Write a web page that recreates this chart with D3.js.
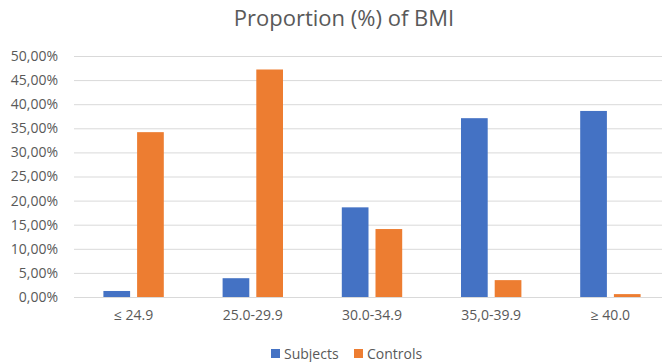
<!DOCTYPE html>
<html>
<head>
<meta charset="utf-8">
<script src="https://cdn.jsdelivr.net/npm/d3@7"></script>
<style>
  html, body { margin: 0; padding: 0; background: #fff; overflow: hidden; }
  svg { display: block; font-family: "Open Sans", "Liberation Sans", sans-serif; }
</style>
</head>
<body>
<svg id="chart" width="662" height="362"></svg>
<script>
// BMI classes and the share (%) of each group falling into them
const categories = ["≤ 24.9", "25.0-29.9", "30.0-34.9", "35,0-39.9", "≥ 40.0"];
const subjects = [1.25, 3.9, 18.6, 37.1, 38.6];
const controls = [34.2, 47.2, 14.1, 3.5, 0.6];
const seriesNames = ["Subjects", "Controls"];
const seriesColors = ["#4472C4", "#ED7D31"];
const yTicks = [0, 5, 10, 15, 20, 25, 30, 35, 40, 45, 50];

const svg = d3.select("#chart");
const W = 662, H = 362;
const plot = { left: 74, right: 670, top: 56, bottom: 297 };
const textColor = "#595959";

const x = d3.scaleBand().domain(categories).range([plot.left, plot.right]).paddingInner(0).paddingOuter(0);
const y = d3.scaleLinear().domain([0, 50]).range([plot.bottom, plot.top]);

const fmt = v => d3.format(".2f")(v).replace(".", ",") + "%";

// title
svg.append("text")
  .attr("x", 344).attr("y", 26)
  .attr("text-anchor", "middle")
  .attr("font-size", 22)
  .attr("fill", textColor)
  .text("Proportion (%) of BMI");

// horizontal gridlines and value labels
const yAxis = d3.axisLeft(y).tickValues(yTicks).tickFormat(fmt).tickSize(-(W - plot.left)).tickPadding(16);
const gy = svg.append("g").attr("transform", `translate(${plot.left},0)`).call(yAxis);
gy.select(".domain").remove();
gy.selectAll(".tick line").attr("stroke", "#d9d9d9").attr("stroke-width", 1);
gy.selectAll(".tick text").attr("fill", textColor).attr("font-size", 14).attr("font-family", "Open Sans, sans-serif");

// category labels
const xAxis = d3.axisBottom(x).tickSize(0).tickPadding(13);
const gx = svg.append("g").attr("transform", `translate(0,${plot.bottom})`).call(xAxis);
gx.select(".domain").remove();
gx.selectAll(".tick text").attr("fill", textColor).attr("font-size", 14).attr("font-family", "Open Sans, sans-serif");

// grouped bars
const barW = 26.7, barGap = 7;
const groupW = barW * 2 + barGap;
const rows = categories.map((c, i) => ({ c, vals: [subjects[i], controls[i]] }));
const groups = svg.append("g").selectAll("g").data(rows).join("g")
  .attr("transform", d => `translate(${x(d.c) + (x.bandwidth() - groupW) / 2},0)`);
groups.selectAll("rect").data(d => d.vals.map((v, k) => ({ v, k }))).join("rect")
  .attr("x", d => d.k * (barW + barGap))
  .attr("y", d => y(d.v))
  .attr("width", barW)
  .attr("height", d => y(0) - y(d.v))
  .attr("fill", d => seriesColors[d.k]);

// legend
const legendItems = [{ x: 271 }, { x: 354 }];
const lg = svg.append("g").selectAll("g").data(seriesNames).join("g")
  .attr("transform", (d, i) => `translate(${legendItems[i].x},349)`);
lg.append("rect").attr("width", 9).attr("height", 9).attr("fill", (d, i) => seriesColors[i]);
lg.append("text").attr("x", 13).attr("y", 10)
  .attr("font-size", 14).attr("fill", textColor).text(d => d);
</script>
</body>
</html>
